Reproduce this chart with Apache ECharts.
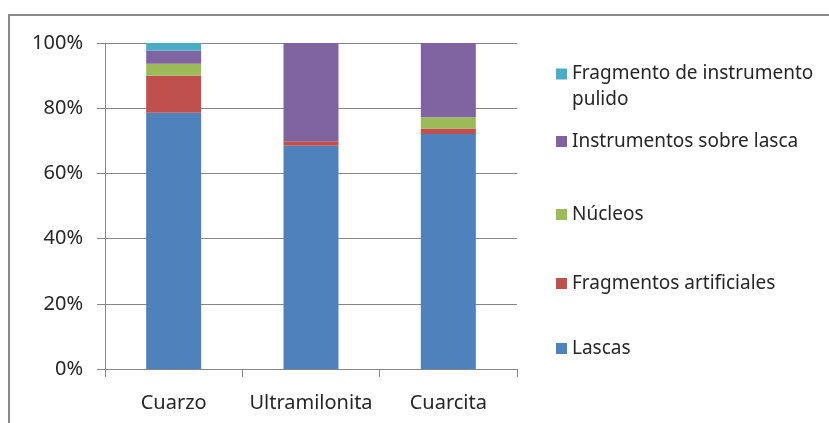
<!DOCTYPE html>
<html>
<head>
<meta charset="utf-8">
<script src="https://cdn.jsdelivr.net/npm/echarts@6/dist/echarts.min.js"></script>
<style>
    html, body { margin: 0; padding: 0; background: #fff; }
    #chart { width: 829px; height: 423px; }
</style>
</head>
<body>
<div id="chart"></div>
<script>
// categorías (eje x)
const categories = ['Cuarzo', 'Ultramilonita', 'Cuarcita']
// porcentajes por tipo de pieza
const lascas = [78.6, 68.5, 72.1]
const fragmentosArtificiales = [11.4, 1.4, 1.7]
const nucleos = [3.6, 0, 3.4]
const instrumentosLasca = [4.0, 30.1, 22.8]
const fragmentoPulido = [2.4, 0, 0]
const yTicks = [0, 20, 40, 60, 80, 100]

const names = ['Lascas', 'Fragmentos artificiales', 'Núcleos', 'Instrumentos sobre lasca', 'Fragmento de instrumento pulido']
const colors = ['#4F81BD', '#C0504D', '#9BBB59', '#8064A2', '#4BACC6']
const values = [lascas, fragmentosArtificiales, nucleos, instrumentosLasca, fragmentoPulido]

const gray = '#868686'
const textColor = '#262626'
const font = 'Noto Sans'

const chart = echarts.init(document.getElementById('chart'))

// una leyenda por elemento para poder colocarlas como en el original
const legendTops = { 4: 35, 3: 132, 2: 205, 1: 274, 0: 339 }
const legends = names.map((n, i) => {
    const multi = i === 4
    return {
        data: [n],
        // línea vacía arriba para que la primera línea quede a la altura del icono
        formatter: (name) => name === 'Fragmento de instrumento pulido' ? '\nFragmento de instrumento\npulido' : name,
        left: 556,
        top: legendTops[i],
        padding: 0,
        itemWidth: 11,
        itemHeight: 11,
        itemGap: 0,
        icon: 'rect',
        selectedMode: false,
        textStyle: { color: textColor, fontSize: 19, fontFamily: font, lineHeight: multi ? 26 : 11 }
    }
})

const option = {
    animation: false,
    backgroundColor: '#fff',
    textStyle: { fontFamily: font },
    graphic: [{
        type: 'rect',
        shape: { x: 9, y: 15, width: 900, height: 500 },
        style: { fill: 'none', stroke: '#8a8a8a', lineWidth: 2 },
        silent: true
    }],
    legend: legends,
    grid: { left: 105, right: 312, top: 43, bottom: 54 },
    xAxis: {
        type: 'category',
        data: categories,
        axisLine: { lineStyle: { color: gray } },
        axisTick: { show: true, length: 8, lineStyle: { color: gray } },
        axisLabel: { interval: 0, color: textColor, fontSize: 20, fontFamily: font, margin: 24 }
    },
    yAxis: {
        type: 'value',
        min: yTicks[0],
        max: yTicks[yTicks.length - 1],
        interval: 20,
        axisLine: { show: true, lineStyle: { color: gray } },
        axisTick: { show: true, length: 8, lineStyle: { color: gray } },
        splitLine: { lineStyle: { color: gray } },
        axisLabel: { formatter: '{value}%', color: textColor, fontSize: 20, fontFamily: font, margin: 22 }
    },
    series: names.map((n, i) => ({
        name: n,
        type: 'bar',
        stack: 'total',
        barWidth: 55,
        data: values[i],
        itemStyle: { color: colors[i] }
    }))
}

chart.setOption(option)
</script>
</body>
</html>
